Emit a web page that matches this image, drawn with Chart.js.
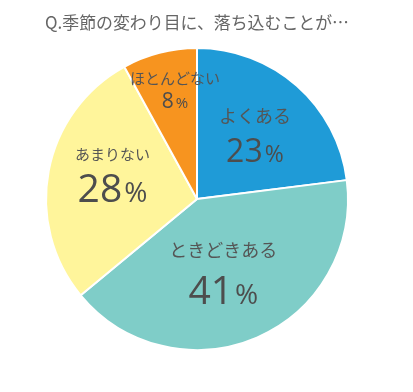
<!DOCTYPE html>
<html>
<head>
<meta charset="utf-8">
<script src="https://cdn.jsdelivr.net/npm/chart.js@4"></script>
<style>
  html, body { margin: 0; padding: 0; background: #fff; }
  canvas { display: block; }
</style>
</head>
<body>
<canvas id="c" width="413" height="392"></canvas>
<script>
// answers, clockwise from 12 o'clock
const labels = ['よくある', 'ときどきある', 'あまりない', 'ほとんどない'];
const shares = [23, 41, 28, 8];
const colours = ['#1f9bd7', '#7fcdc8', '#fff59b', '#f7941f'];

// where each label block sits inside its slice (fraction of radius, angle nudge in degrees)
const place = [
  { r: 0.58, a: 0, big: 32, small: 18, gap: 17 },
  { r: 0.50, a: 3, big: 39, small: 18, gap: 20 },
  { r: 0.59, a: 7.6, big: 39, small: 15, gap: 17 },
  { r: 0.74, a: 3, big: 21, small: 15, gap: 11 },
];

const JP = '"Noto Sans CJK JP", "Noto Sans", sans-serif';
const NUM = '"Open Sans", "Noto Sans", sans-serif';

const sliceLabels = {
  id: 'sliceLabels',
  afterDatasetsDraw(chart) {
    const ctx = chart.ctx;
    const arcs = chart.getDatasetMeta(0).data;
    ctx.save();
    arcs.forEach((arc, i) => {
      const p = place[i];
      const mid = (arc.startAngle + arc.endAngle) / 2 + p.a * Math.PI / 180;
      const d = arc.outerRadius * p.r;
      const x = arc.x + Math.cos(mid) * d;
      const y = arc.y + Math.sin(mid) * d;

      ctx.fillStyle = '#555';
      ctx.textAlign = 'center';
      ctx.textBaseline = 'middle';
      ctx.font = `${p.small}px ${JP}`;
      ctx.fillText(labels[i], x, y - p.gap);

      // number big, % smaller
      const num = String(shares[i]);
      ctx.fillStyle = '#4d4d4d';
      ctx.font = `${p.big}px ${NUM}`;
      const wn = ctx.measureText(num).width;
      const pctSize = Math.round(p.big * 0.72);
      ctx.font = `${pctSize}px ${NUM}`;
      const wp = ctx.measureText('%').width;
      const left = x - (wn + wp + 2) / 2;
      ctx.textAlign = 'left';
      ctx.textBaseline = 'alphabetic';
      const base = y + p.gap + p.big * 0.36;
      ctx.font = `${p.big}px ${NUM}`;
      ctx.fillText(num, left, base);
      ctx.font = `${pctSize}px ${NUM}`;
      ctx.fillText('%', left + wn + 2, base);
    });
    ctx.restore();
  },
};

new Chart(document.getElementById('c'), {
  type: 'pie',
  data: {
    labels,
    datasets: [{
      data: shares,
      backgroundColor: colours,
      borderColor: '#fff',
      borderWidth: 2,
    }],
  },
  options: {
    responsive: false,
    animation: false,
    layout: { padding: { left: 45, right: 64, top: 0, bottom: 41 } },
    plugins: {
      legend: { display: false },
      tooltip: { enabled: false },
      title: {
        display: true,
        text: 'Q.季節の変わり目に、落ち込むことが…',
        color: '#666',
        font: { family: JP, size: 17.4, weight: 'normal', lineHeight: 1.2 },
        padding: { top: 12, bottom: 14.2 },
      },
    },
  },
  plugins: [sliceLabels],
});
</script>
</body>
</html>
